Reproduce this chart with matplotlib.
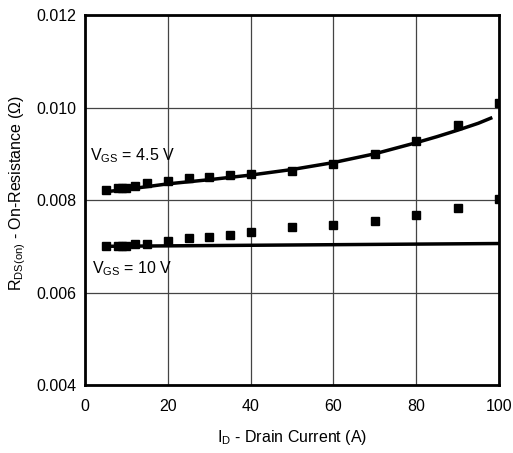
import numpy as np
import matplotlib
matplotlib.use('Agg')
import matplotlib.pyplot as plt

plt.rcParams['font.family'] = ['Liberation Sans', 'DejaVu Sans']
plt.rcParams['mathtext.fontset'] = 'custom'
plt.rcParams['mathtext.rm'] = 'Liberation Sans'
plt.rcParams['mathtext.it'] = 'Liberation Sans'

# measured points
id_pts = [5, 8, 9, 10, 12, 15, 20, 25, 30, 35, 40, 50, 60, 70, 80, 90, 100]
r_45_pts = [0.00822, 0.00827, 0.00827, 0.00827, 0.00831, 0.00836, 0.00842, 0.00847,
            0.00850, 0.00854, 0.00856, 0.00863, 0.00879, 0.00899, 0.00928, 0.00962, 0.01009]
r_10_pts = [0.00700, 0.00700, 0.00700, 0.00700, 0.00706, 0.00706, 0.00712, 0.00719,
            0.00721, 0.00725, 0.00731, 0.00741, 0.00747, 0.00755, 0.00768, 0.00783, 0.00802]

# model curves
id_curve = [5, 10, 20, 30, 40, 50, 60, 70, 80, 85, 90, 95, 98]
r_45_curve = [0.00818, 0.00823, 0.00835, 0.00844, 0.00854, 0.00866, 0.00881, 0.00900,
              0.00924, 0.00937, 0.00951, 0.00966, 0.00977]
id_curve_10 = [5, 100]
r_10_curve = [0.00700, 0.00706]

xticks = [0, 20, 40, 60, 80, 100]
yticks = [0.004, 0.006, 0.008, 0.010, 0.012]
ytick_labels = ['0.004', '0.006', '0.008', '0.010', '0.012']

fig = plt.figure(figsize=(5.13, 4.53), dpi=100)
ax = fig.add_axes([0.1657, 0.150, 0.807, 0.8168])

ax.plot(id_curve, r_45_curve, color='black', lw=2.5, zorder=3)
ax.plot(id_curve_10, r_10_curve, color='black', lw=2.5, zorder=3)
ax.plot(id_pts, r_45_pts, 's', color='black', ms=6, zorder=4)
ax.plot(id_pts, r_10_pts, 's', color='black', ms=6, zorder=4)

ax.set_xlim(0, 100)
ax.set_ylim(0.004, 0.012)
ax.set_xticks(xticks)
ax.set_yticks(yticks)
ax.set_yticklabels(ytick_labels)
ax.tick_params(length=0, labelsize=11.5)
ax.tick_params(axis='x', pad=10)
ax.tick_params(axis='y', pad=6)
ax.grid(True, color='#444444', lw=0.9)
ax.set_axisbelow(True)
for s in ax.spines.values():
    s.set_linewidth(2)
    s.set_zorder(5)

ax.text(1.2, 0.00895, r'$\mathregular{V_{GS}}$ = 4.5 V', fontsize=11.5, va='center')
ax.text(1.8, 0.00652, r'$\mathregular{V_{GS}}$ = 10 V', fontsize=11.5, va='center')

ax.set_xlabel(r'$\mathregular{I_D}$ - Drain Current (A)', fontsize=11.5, va='center')
ax.set_ylabel(r'$\mathregular{R_{DS(on)}}$ - On-Resistance (Ω)', fontsize=11.5, va='center')
ax.xaxis.set_label_coords(0.5, -0.143)
ax.yaxis.set_label_coords(-0.163, 0.518)

fig.savefig('out.png', dpi=100)
